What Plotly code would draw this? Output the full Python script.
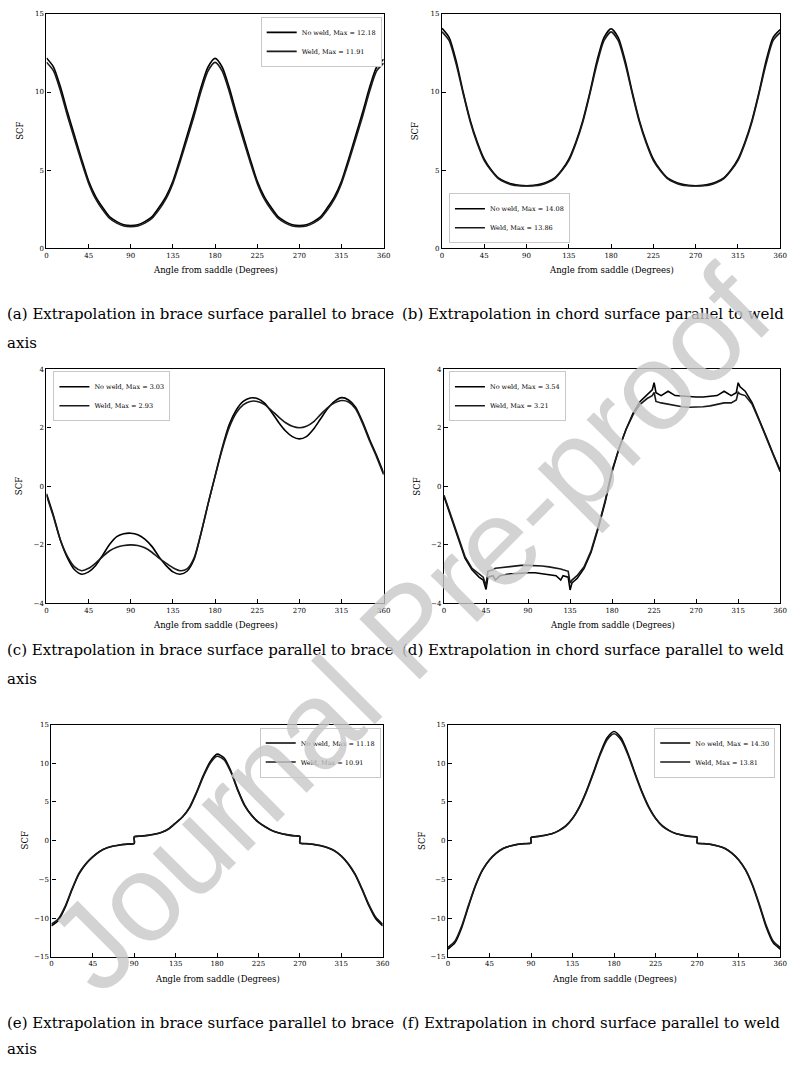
import plotly.graph_objects as go

W, H = 804, 1066

# ---------------- data ----------------
ANGLES = [0, 7.5, 15, 22.5, 30, 37.5, 45, 52.5, 60, 67.5, 75, 82.5, 90, 97.5, 105, 112.5, 120,
          127.5, 135, 142.5, 150, 157.5, 165, 172.5, 180, 187.5, 195, 202.5, 210, 217.5, 225,
          232.5, 240, 247.5, 255, 262.5, 270, 277.5, 285, 292.5, 300, 307.5, 315, 322.5, 330,
          337.5, 345, 352.5, 360]

ANGLES_STEP = [0, 7.5, 15, 22.5, 30, 37.5, 45, 52.5, 60, 67.5, 75, 82.5, 90,
               90, 97.5, 105, 112.5, 120, 127.5, 135, 142.5, 150, 157.5, 165, 172.5, 180,
               187.5, 195, 202.5, 210, 217.5, 225, 232.5, 240, 247.5, 255, 262.5, 270,
               270, 277.5, 285, 292.5, 300, 307.5, 315, 322.5, 330, 337.5, 345, 352.5, 360]

ANGLES_D = [0, 7.5, 15, 22.5, 30, 37.5, 42, 45, 47, 52.5, 55, 60, 67.5, 75, 82.5, 90, 97.5, 105,
            112.5, 120, 125, 127.5, 133, 135, 137, 142.5, 150, 157.5, 165, 172.5, 180, 187.5,
            195, 202.5, 210, 217.5, 223, 225, 227, 232.5, 240, 247.5, 255, 262.5, 270, 277.5,
            285, 292.5, 300, 307.5, 313, 315, 317, 322.5, 330, 337.5, 345, 352.5, 360]

A_NOWELD = [12.18, 11.6, 10.3, 8.7, 7.2, 5.7, 4.3, 3.3, 2.6, 2.0, 1.7, 1.5, 1.45,
            1.5, 1.7, 2.0, 2.6, 3.3, 4.3, 5.7, 7.2, 8.7, 10.3, 11.6, 12.15,
            11.6, 10.3, 8.7, 7.2, 5.7, 4.3, 3.3, 2.6, 2.0, 1.7, 1.5, 1.45,
            1.5, 1.7, 2.0, 2.6, 3.3, 4.3, 5.7, 7.2, 8.7, 10.3, 11.6, 12.1]
A_WELD = [11.91, 11.35, 10.05, 8.45, 6.95, 5.5, 4.15, 3.15, 2.45, 1.9, 1.6, 1.42, 1.38,
          1.42, 1.6, 1.9, 2.45, 3.15, 4.15, 5.5, 6.95, 8.45, 10.05, 11.35, 11.9,
          11.35, 10.05, 8.45, 6.95, 5.5, 4.15, 3.15, 2.45, 1.9, 1.6, 1.42, 1.38,
          1.42, 1.6, 1.9, 2.45, 3.15, 4.15, 5.5, 6.95, 8.45, 10.05, 11.35, 11.85]

B_NOWELD = [14.08, 13.5, 12.0, 10.0, 8.2, 6.8, 5.7, 5.0, 4.5, 4.25, 4.1, 4.02, 4.0,
            4.02, 4.1, 4.25, 4.5, 5.0, 5.7, 6.8, 8.2, 10.0, 12.0, 13.5, 14.05,
            13.5, 12.0, 10.0, 8.2, 6.8, 5.7, 5.0, 4.5, 4.25, 4.1, 4.02, 4.0,
            4.02, 4.1, 4.25, 4.5, 5.0, 5.7, 6.8, 8.2, 10.0, 12.0, 13.5, 14.0]
B_WELD = [13.86, 13.3, 11.8, 9.9, 8.1, 6.7, 5.6, 4.95, 4.45, 4.2, 4.05, 4.0, 3.98,
          4.0, 4.05, 4.2, 4.45, 4.95, 5.6, 6.7, 8.1, 9.9, 11.8, 13.3, 13.85,
          13.3, 11.8, 9.9, 8.1, 6.7, 5.6, 4.95, 4.45, 4.2, 4.05, 4.0, 3.98,
          4.0, 4.05, 4.2, 4.45, 4.95, 5.6, 6.7, 8.1, 9.9, 11.8, 13.3, 13.8]

C_NOWELD = [-0.25, -1.0, -1.85, -2.45, -2.85, -3.0, -2.92, -2.7, -2.35, -1.98, -1.72, -1.62, -1.6,
            -1.65, -1.8, -2.05, -2.4, -2.7, -2.92, -3.0, -2.9, -2.5, -1.6, -0.6, 0.35,
            1.3, 2.1, 2.6, 2.9, 3.02, 3.0, 2.85, 2.55, 2.2, 1.9, 1.7, 1.62,
            1.7, 1.95, 2.3, 2.65, 2.9, 3.03, 2.95, 2.7, 2.2, 1.6, 1.05, 0.45]
C_WELD = [-0.3, -1.05, -1.85, -2.4, -2.75, -2.88, -2.8, -2.62, -2.4, -2.2, -2.08, -2.02, -2.0,
          -2.02, -2.1, -2.25, -2.45, -2.62, -2.78, -2.88, -2.82, -2.45, -1.6, -0.6, 0.35,
          1.25, 2.0, 2.5, 2.78, 2.9, 2.9, 2.8, 2.6, 2.38, 2.18, 2.05, 2.0,
          2.05, 2.2, 2.45, 2.68, 2.85, 2.93, 2.88, 2.65, 2.15, 1.55, 1.0, 0.4]

D_NOWELD = [-0.35, -1.05, -1.8, -2.45, -2.85, -3.1, -3.2, -3.52, -3.1, -3.05, -3.2, -3.05, -3.0,
            -2.98, -2.95, -2.95, -2.95, -2.98, -3.0, -3.05, -3.2, -3.05, -3.1, -3.54, -3.3,
            -3.15, -2.8, -2.25, -1.45, -0.55, 0.5, 1.3, 1.95, 2.5, 2.9, 3.15, 3.3, 3.54, 3.2,
            3.1, 3.25, 3.1, 3.08, 3.05, 3.05, 3.05, 3.08, 3.1, 3.25, 3.1, 3.2, 3.54, 3.4,
            3.25, 2.85, 2.3, 1.7, 1.1, 0.55]
D_WELD = [-0.3, -1.0, -1.75, -2.4, -2.8, -3.0, -3.1, -3.4, -2.9, -2.85, -2.8, -2.78, -2.75,
          -2.72, -2.7, -2.7, -2.7, -2.72, -2.75, -2.78, -2.82, -2.85, -2.9, -3.3, -3.2,
          -3.05, -2.75, -2.2, -1.4, -0.5, 0.55, 1.3, 1.95, 2.45, 2.8, 3.0, 3.1, 3.21, 2.9,
          2.85, 2.8, 2.75, 2.72, 2.7, 2.7, 2.72, 2.75, 2.8, 2.85, 2.85, 2.95, 3.21, 3.15,
          3.1, 2.8, 2.25, 1.65, 1.05, 0.5]

E_NOWELD = [-11.0, -10.3, -8.6, -6.3, -4.3, -3.0, -2.1, -1.4, -0.95, -0.7, -0.55, -0.45, -0.35,
            0.5, 0.6, 0.7, 0.85, 1.1, 1.55, 2.3, 3.1, 4.3, 6.2, 8.4, 10.2, 11.18,
            10.7, 9.0, 6.6, 4.6, 3.3, 2.4, 1.8, 1.3, 1.0, 0.8, 0.65, 0.55,
            -0.3, -0.4, -0.5, -0.65, -0.9, -1.3, -2.0, -3.0, -4.4, -6.3, -8.4, -10.1, -11.0]
E_WELD = [-10.8, -10.1, -8.45, -6.2, -4.2, -2.95, -2.05, -1.38, -0.93, -0.68, -0.53, -0.43, -0.33,
          0.48, 0.58, 0.68, 0.83, 1.08, 1.5, 2.25, 3.05, 4.2, 6.1, 8.25, 10.0, 10.91,
          10.45, 8.85, 6.5, 4.5, 3.25, 2.35, 1.75, 1.28, 0.98, 0.78, 0.63, 0.53,
          -0.28, -0.38, -0.48, -0.63, -0.88, -1.28, -1.95, -2.95, -4.3, -6.2, -8.25, -9.9, -10.8]

F_NOWELD = [-14.0, -13.2, -11.2, -8.4, -5.8, -3.8, -2.5, -1.6, -1.0, -0.7, -0.5, -0.4, -0.3,
            0.4, 0.55, 0.7, 0.9, 1.3, 1.9, 2.9, 4.4, 6.4, 8.8, 11.3, 13.3, 14.1,
            13.3, 11.3, 8.8, 6.4, 4.4, 2.9, 1.9, 1.3, 0.9, 0.7, 0.55, 0.45,
            -0.3, -0.4, -0.5, -0.7, -1.0, -1.6, -2.5, -3.8, -5.8, -8.4, -11.2, -13.2, -14.0]
F_WELD = [-13.8, -13.0, -11.0, -8.25, -5.7, -3.75, -2.45, -1.57, -0.98, -0.68, -0.48, -0.38, -0.28,
          0.38, 0.53, 0.68, 0.88, 1.27, 1.85, 2.85, 4.3, 6.3, 8.65, 11.1, 13.05, 13.81,
          13.05, 11.1, 8.65, 6.3, 4.3, 2.85, 1.85, 1.27, 0.88, 0.68, 0.53, 0.43,
          -0.28, -0.38, -0.48, -0.68, -0.98, -1.57, -2.45, -3.75, -5.7, -8.25, -11.0, -13.0, -13.8]

LEGEND_NOWELD = ["No weld, Max = 12.18", "No weld, Max = 14.08", "No weld, Max = 3.03",
                 "No weld, Max = 3.54", "No weld, Max = 11.18", "No weld, Max = 14.30"]
LEGEND_WELD = ["Weld, Max = 11.91", "Weld, Max = 13.86", "Weld, Max = 2.93",
               "Weld, Max = 3.21", "Weld, Max = 10.91", "Weld, Max = 13.81"]

X_TICKS = [0, 45, 90, 135, 180, 225, 270, 315, 360]
Y_TICKS_15 = [0, 5, 10, 15]
Y_TICKS_4 = [-4, -2, 0, 2, 4]
Y_TICKS_SYM15 = [-15, -10, -5, 0, 5, 10, 15]

CAPTIONS = [
    "(a) Extrapolation in brace surface parallel to brace",
    "(b) Extrapolation in chord surface parallel to weld",
    "(c) Extrapolation in brace surface parallel to brace",
    "(d) Extrapolation in chord surface parallel to weld",
    "(e) Extrapolation in brace surface parallel to brace",
    "(f) Extrapolation in chord surface parallel to weld",
]

# ---------------- layout helpers ----------------
def px(x):
    return x / W


def py(y):
    return 1 - y / H


SERIF = "DejaVu Serif"

# panel boxes in pixels: (left, right, top, bottom)
boxes = [
    (45, 386, 10, 246), (445, 787, 10, 246),
    (45, 386, 368, 604), (447, 787, 368, 604),
    (50, 385, 726, 960), (451, 787, 726, 960),
]
series = [
    (ANGLES, A_NOWELD, A_WELD, [0, 15], Y_TICKS_15, "spline"),
    (ANGLES, B_NOWELD, B_WELD, [0, 15], Y_TICKS_15, "spline"),
    (ANGLES, C_NOWELD, C_WELD, [-4, 4], Y_TICKS_4, "spline"),
    (ANGLES_D, D_NOWELD, D_WELD, [-4, 4], Y_TICKS_4, "linear"),
    (ANGLES_STEP, E_NOWELD, E_WELD, [-15, 15], Y_TICKS_SYM15, "spline"),
    (ANGLES_STEP, F_NOWELD, F_WELD, [-15, 15], Y_TICKS_SYM15, "spline"),
]
legend_pos = [
    (384, 13, "right", "top"),
    (452, 241, "left", "bottom"),
    (52, 370, "left", "top"),
    (452, 370, "left", "top"),
    (383, 729, "right", "top"),
    (782, 729, "right", "top"),
]

fig = go.Figure()
layout = dict(width=W, height=H, margin=dict(l=0, r=0, t=0, b=0),
              paper_bgcolor="white", plot_bgcolor="white", showlegend=True)
annotations = []

for i, ((l, r, t, b), (xs, y1, y2, yr, yt, shape), (lx, ly, lxa, lya)) in enumerate(
        zip(boxes, series, legend_pos)):
    n = i + 1
    sfx = "" if n == 1 else str(n)
    leg = "legend" if n == 1 else f"legend{n}"
    line_kw = dict(color="black", width=1.6, shape=shape)
    if shape == "spline":
        line_kw["smoothing"] = 0.7
    fig.add_trace(go.Scatter(x=xs, y=y1, mode="lines", name=LEGEND_NOWELD[i],
                             line=line_kw, xaxis="x" + sfx, yaxis="y" + sfx, legend=leg))
    fig.add_trace(go.Scatter(x=xs, y=y2, mode="lines", name=LEGEND_WELD[i],
                             line=dict(line_kw, color="#1a1a1a"), xaxis="x" + sfx,
                             yaxis="y" + sfx, legend=leg))
    common = dict(showline=True, linecolor="black", linewidth=1.3, mirror=True,
                  ticks="inside", ticklen=4, tickwidth=1, tickcolor="black",
                  showgrid=False, zeroline=False,
                  tickfont=dict(family=SERIF, size=7, color="black"))
    layout["xaxis" + sfx] = dict(common, domain=[px(l), px(r)], range=[0, 360],
                                 tickvals=X_TICKS, anchor="y" + sfx)
    layout["yaxis" + sfx] = dict(common, domain=[py(b), py(t)], range=yr,
                                 tickvals=yt, anchor="x" + sfx)
    layout[leg] = dict(x=px(lx), y=py(ly), xanchor=lxa, yanchor=lya,
                       bgcolor="white", bordercolor="#c8c8c8", borderwidth=1,
                       font=dict(family=SERIF, size=6.5, color="black"),
                       itemwidth=30, tracegroupgap=0)
    # axis titles
    annotations.append(dict(text="Angle from saddle (Degrees)", x=px((l + r) / 2),
                            y=py(b + 22), xref="paper", yref="paper", showarrow=False,
                            xanchor="center", yanchor="middle",
                            font=dict(family=SERIF, size=8.5, color="black")))
    annotations.append(dict(text="SCF", x=px(l - 27), y=py((t + b) / 2), xref="paper",
                            yref="paper", showarrow=False, textangle=-90,
                            xanchor="center", yanchor="middle",
                            font=dict(family=SERIF, size=8.5, color="black")))

# captions
cap_rows = [(312, 342), (651, 680), (1027, 1053)]
for row, (yc, ya) in enumerate(cap_rows):
    for col in range(2):
        idx = row * 2 + col
        annotations.append(dict(text=CAPTIONS[idx], x=px(3 if col == 0 else 403), y=py(yc),
                                xref="paper", yref="paper", showarrow=False,
                                xanchor="left", yanchor="middle",
                                font=dict(family=SERIF, size=15, color="black")))
    annotations.append(dict(text="axis", x=px(3), y=py(ya), xref="paper", yref="paper",
                            showarrow=False, xanchor="left", yanchor="middle",
                            font=dict(family=SERIF, size=15, color="black")))

# watermark
annotations.append(dict(text="Journal Pre-proof", x=px(412), y=py(630), xref="paper",
                        yref="paper", showarrow=False, textangle=-45,
                        xanchor="center", yanchor="middle",
                        font=dict(family="Liberation Sans", size=124,
                                  color="rgba(200,200,200,0.8)")))

layout["annotations"] = annotations
fig.update_layout(**layout)
fig.write_html("out.html", config={"displayModeBar": False},
               post_script="document.body.style.margin='0';document.body.style.overflow='hidden';")
